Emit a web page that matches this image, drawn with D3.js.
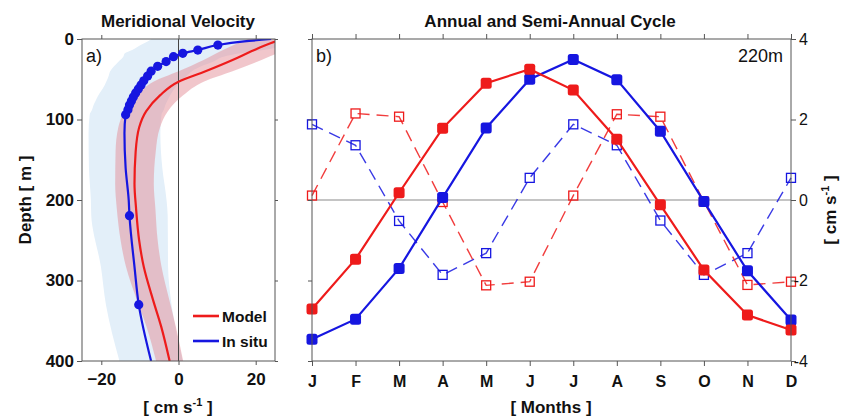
<!DOCTYPE html>
<html>
<head>
<meta charset="utf-8">
<script src="https://cdn.jsdelivr.net/npm/d3@7"></script>
<style>
  body { margin: 0; background: #fff; }
  svg { display: block; font-family: "Liberation Sans", Arial, Helvetica, sans-serif; }
</style>
</head>
<body>
<svg id="chart" width="844" height="416"></svg>
<script>
// ---------- panel a: meridional velocity profile ----------
const depthTicks = [0, 100, 200, 300, 400];
const velocityTicks = [-20, 0, 20];

// model mean profile (cm/s) and its spread
const modelDepth  = [0, 5, 15, 26, 40, 53, 70, 90, 110, 140, 180, 210, 250, 283, 324, 357, 400];
const modelVel    = [27, 24, 19, 14, 7, 0, -4.8, -8.4, -10.2, -11.1, -11.4, -11, -10.2, -9.0, -6.6, -4.5, -2.3];
const modelSpread = [9, 8.5, 8, 7.5, 7, 6.5, 6, 5.6, 5.4, 5.2, 5, 5, 4.8, 4.6, 4.2, 3.8, 3.5];

// in situ profile (line) and its spread
const insituDepth  = [0, 3, 7.5, 13.7, 17.8, 22, 28, 34, 40, 46, 52, 57, 62, 67, 72, 77, 82, 88, 94, 117, 160, 200, 219.5, 283, 330, 400];
const insituVel    = [24, 17, 10.2, 5, 1.1, -1.3, -3.2, -5.4, -7.1, -8, -9, -9.7, -10.4, -11.1, -11.7, -12.2, -12.7, -13.1, -13.7, -14, -13.7, -12.9, -12.7, -11.4, -10.3, -7.1];
const insituSpread = [31, 25, 20, 17, 15, 13, 12.3, 11.3, 10.6, 10.1, 9.6, 9.4, 9.3, 9.3, 9.3, 9.3, 9.3, 9.3, 9.3, 9.3, 9.5, 9.8, 9.9, 8.7, 8.5, 8.2];

// in situ measurement depths (dots)
const obsDepth = [7.5, 13.7, 17.8, 22, 28, 34, 40, 46, 52, 57, 62, 67, 72, 77, 82, 88, 94, 219.5, 330];
const obsVel   = [10.2, 5, 1.1, -1.3, -3.2, -5.4, -7.1, -8, -9, -9.7, -10.4, -11.1, -11.7, -12.2, -12.7, -13.1, -13.7, -12.7, -10.3];

// ---------- panel b: annual and semi-annual cycle at 220 m ----------
const months = ["J", "F", "M", "A", "M", "J", "J", "A", "S", "O", "N", "D"];
const cycleTicks = [-4, -2, 0, 2, 4];
const modelAnnual  = [-2.71, -1.47, 0.18, 1.78, 2.90, 3.25, 2.73, 1.51, -0.12, -1.74, -2.86, -3.23];
const insituAnnual = [-3.46, -2.96, -1.70, 0.06, 1.79, 3.00, 3.49, 2.99, 1.71, -0.04, -1.76, -2.98];
const modelSemi    = [0.11, 2.15, 2.07, -0.05, -2.12, -2.03, 0.11, 2.13, 2.07, -0.04, -2.11, -2.03];
const insituSemi   = [1.88, 1.36, -0.52, -1.86, -1.32, 0.55, 1.88, 1.36, -0.51, -1.86, -1.32, 0.55];

const RED = "#ee1b1b";
const BLUE = "#1616e0";
const FRAME = "#555";

const svg = d3.select("#chart");

function styleAxis(g, opts) {
  g.select(".domain").remove();
  g.selectAll(".tick line").attr("stroke", FRAME).attr("stroke-width", 1);
  g.selectAll(".tick text")
    .attr("fill", "#111")
    .style("font-size", opts.size + "px")
    .style("font-weight", opts.bold ? "bold" : "normal");
}

// ===== panel a =====
const ax = d3.scaleLinear().domain([-25, 25]).range([82, 275]);
const ay = d3.scaleLinear().domain([0, 400]).range([39, 361]);

svg.append("clipPath").attr("id", "clipA")
  .append("rect").attr("x", ax.range()[0]).attr("y", ay.range()[0])
  .attr("width", ax.range()[1] - ax.range()[0]).attr("height", ay.range()[1] - ay.range()[0]);

const pa = svg.append("g").attr("clip-path", "url(#clipA)");

const insituRows = insituDepth.map((d, i) => ({ d, v: insituVel[i], s: insituSpread[i] }));
const modelRows = modelDepth.map((d, i) => ({ d, v: modelVel[i], s: modelSpread[i] }));

const band = d3.area()
  .y(r => ay(r.d))
  .x0(r => ax(r.v - r.s))
  .x1(r => ax(r.v + r.s))
  .curve(d3.curveMonotoneY);
const prof = d3.line()
  .y(r => ay(r.d))
  .x(r => ax(r.v))
  .curve(d3.curveMonotoneY);

pa.append("path").datum(insituRows).attr("d", band).attr("fill", "#e3eff9");
pa.append("path").datum(modelRows).attr("d", band).attr("fill", "#e48e98").attr("fill-opacity", 0.5);

pa.append("line")
  .attr("x1", ax(0)).attr("x2", ax(0))
  .attr("y1", ay(0)).attr("y2", ay(400))
  .attr("stroke", "#444").attr("stroke-width", 1);

pa.append("path").datum(modelRows).attr("d", prof)
  .attr("fill", "none").attr("stroke", RED).attr("stroke-width", 2.2);
pa.append("path").datum(insituRows).attr("d", prof)
  .attr("fill", "none").attr("stroke", BLUE).attr("stroke-width", 2.2);
pa.selectAll("circle.obs").data(obsDepth).join("circle")
  .attr("class", "obs")
  .attr("cx", (d, i) => ax(obsVel[i])).attr("cy", d => ay(d))
  .attr("r", 4.6).attr("fill", BLUE);

// frame and axes of panel a
svg.append("rect")
  .attr("x", 82).attr("y", 39).attr("width", 193).attr("height", 322)
  .attr("fill", "none").attr("stroke", FRAME).attr("stroke-width", 1);

svg.append("g").attr("transform", `translate(${ax.range()[0]},0)`)
  .call(d3.axisLeft(ay).tickValues(depthTicks).tickSize(5).tickPadding(3))
  .call(g => styleAxis(g, { size: 17, bold: true }));
svg.append("g").attr("transform", `translate(${ax.range()[1]},0)`)
  .call(d3.axisRight(ay).tickValues(depthTicks).tickSize(3).tickFormat(""))
  .call(g => styleAxis(g, { size: 17, bold: true }));
svg.append("g").attr("transform", `translate(0,${ay.range()[0]})`)
  .call(d3.axisTop(ax).tickValues(velocityTicks).tickSize(4).tickFormat(""))
  .call(g => styleAxis(g, { size: 17, bold: true }));
svg.append("g").attr("transform", `translate(0,${ay.range()[1]})`)
  .call(d3.axisBottom(ax).tickValues(velocityTicks).tickSize(4).tickPadding(8))
  .call(g => styleAxis(g, { size: 17, bold: true }));

svg.append("text").attr("x", 178).attr("y", 27).attr("text-anchor", "middle")
  .style("font-size", "17px").style("font-weight", "bold").attr("fill", "#111")
  .text("Meridional Velocity");
svg.append("text").attr("x", 86).attr("y", 62)
  .style("font-size", "18px").attr("fill", "#111").text("a)");

const depthLabel = svg.append("text")
  .attr("transform", "translate(31,200) rotate(-90)").attr("text-anchor", "middle")
  .style("font-size", "17px").style("font-weight", "bold").attr("fill", "#111");
depthLabel.text("Depth [ m ]");

function unitLabel(sel) {
  sel.append("tspan").text("[ cm s");
  sel.append("tspan").attr("dy", -7).style("font-size", "11px").text("-1");
  sel.append("tspan").attr("dy", 7).text(" ]");
}
svg.append("text").attr("x", 178).attr("y", 413).attr("text-anchor", "middle")
  .style("font-size", "17px").style("font-weight", "bold").attr("fill", "#111")
  .call(unitLabel);

// legend
const legend = [
  { name: "Model", color: RED, y: 316 },
  { name: "In situ", color: BLUE, y: 341 }
];
const lg = svg.append("g");
lg.selectAll("line").data(legend).join("line")
  .attr("x1", 193).attr("x2", 219).attr("y1", d => d.y).attr("y2", d => d.y)
  .attr("stroke", d => d.color).attr("stroke-width", 2.6);
lg.selectAll("text").data(legend).join("text")
  .attr("x", 222).attr("y", d => d.y + 5.5)
  .style("font-size", "15.5px").style("font-weight", "bold").attr("fill", "#111")
  .text(d => d.name);

// ===== panel b =====
const bx = d3.scalePoint().domain(d3.range(months.length)).range([312, 791]);
const by = d3.scaleLinear().domain([-4, 4]).range([361, 39]);

const pb = svg.append("g");
pb.append("line")
  .attr("x1", bx.range()[0]).attr("x2", bx.range()[1])
  .attr("y1", by(0)).attr("y2", by(0))
  .attr("stroke", "#8a8a8a").attr("stroke-width", 1.2);

const cycleLine = d3.line().x((v, i) => bx(i)).y(v => by(v));

function dashedSeries(values, color) {
  pb.append("path").datum(values).attr("d", cycleLine)
    .attr("fill", "none").attr("stroke", color).attr("stroke-width", 1.4)
    .attr("stroke-dasharray", "12,7").attr("stroke-opacity", 0.85);
  pb.append("g").selectAll("rect").data(values).join("rect")
    .attr("x", (v, i) => bx(i) - 4.5).attr("y", v => by(v) - 4.5)
    .attr("width", 9).attr("height", 9)
    .attr("fill", "none").attr("stroke", color).attr("stroke-width", 1.3);
}
function solidSeries(values, color) {
  pb.append("path").datum(values).attr("d", cycleLine)
    .attr("fill", "none").attr("stroke", color).attr("stroke-width", 2.2);
  pb.append("g").selectAll("rect").data(values).join("rect")
    .attr("x", (v, i) => bx(i) - 5.5).attr("y", v => by(v) - 5.5)
    .attr("width", 11).attr("height", 11).attr("rx", 2.5)
    .attr("fill", color);
}
dashedSeries(insituSemi, BLUE);
dashedSeries(modelSemi, RED);
solidSeries(insituAnnual, BLUE);
solidSeries(modelAnnual, RED);

svg.append("rect")
  .attr("x", 312).attr("y", 39).attr("width", 479).attr("height", 322)
  .attr("fill", "none").attr("stroke", FRAME).attr("stroke-width", 1);

svg.append("g").attr("transform", `translate(0,${by.range()[0]})`)
  .call(d3.axisBottom(bx).tickSize(5).tickPadding(10).tickFormat(i => months[i]))
  .call(g => styleAxis(g, { size: 16, bold: true }));
svg.append("g").attr("transform", `translate(0,${by.range()[1]})`)
  .call(d3.axisTop(bx).tickSize(5).tickFormat(""))
  .call(g => styleAxis(g, { size: 16, bold: true }));
svg.append("g").attr("transform", `translate(${bx.range()[0]},0)`)
  .call(d3.axisLeft(by).tickValues(cycleTicks).tickSize(4).tickFormat(""))
  .call(g => styleAxis(g, { size: 16, bold: false }));
svg.append("g").attr("transform", `translate(${bx.range()[1]},0)`)
  .call(d3.axisRight(by).tickValues(cycleTicks).tickSize(5).tickFormat(d => d < 0 ? "-" + Math.abs(d) : d))
  .call(g => styleAxis(g, { size: 16, bold: false }))
  .call(g => g.selectAll(".tick text").attr("text-anchor", "end").attr("x", 17));

svg.append("text").attr("x", 550).attr("y", 27).attr("text-anchor", "middle")
  .style("font-size", "17px").style("font-weight", "bold").attr("fill", "#111")
  .text("Annual and Semi-Annual Cycle");
svg.append("text").attr("x", 316).attr("y", 62)
  .style("font-size", "18px").attr("fill", "#111").text("b)");
svg.append("text").attr("x", 783).attr("y", 62).attr("text-anchor", "end")
  .style("font-size", "18px").attr("fill", "#111").text("220m");

svg.append("text").attr("x", 551).attr("y", 413).attr("text-anchor", "middle")
  .style("font-size", "17px").style("font-weight", "bold").attr("fill", "#111")
  .text("[ Months ]");
svg.append("text").attr("transform", "translate(836,210) rotate(-90)").attr("text-anchor", "middle")
  .style("font-size", "17px").style("font-weight", "bold").attr("fill", "#111")
  .call(unitLabel);
</script>
</body>
</html>
